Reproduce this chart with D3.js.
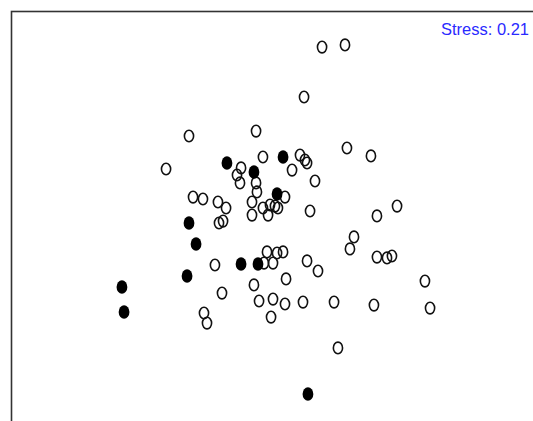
<!DOCTYPE html>
<html>
<head>
<meta charset="utf-8">
<script src="https://cdn.jsdelivr.net/npm/d3@7"></script>
<style>
  html, body { margin: 0; padding: 0; background: #fff; overflow: hidden; }
</style>
</head>
<body>
<svg id="chart" width="533" height="421"></svg>
<script>
// NMDS site scores
const openNMDS1 = [0.347, 0.500, 0.227, -0.540, -0.093, -0.693, -0.047, 0.200, 0.233, 0.247,
  0.147, 0.300, 0.513, 0.673, 0.267, 0.713, 0.847, 0.560, 0.533, 0.247,
  0.320, 0.713, 0.780, 0.813, 1.033, 1.067, 0.693, 0.453, 0.427, 0.220,
  -0.193, -0.220, -0.200, -0.093, -0.087, -0.120, -0.120, 0.100, -0.047, 0.000,
  0.033, 0.053, -0.013, -0.513, -0.447, -0.347, -0.293, -0.313, -0.340, -0.367,
  -0.020, 0.047, 0.087, -0.040, 0.020, 0.107, -0.107, -0.073, 0.020, 0.100,
  -0.320, -0.440, -0.420, 0.007];
const openNMDS2 = [1.153, 1.167, 0.820, 0.560, 0.593, 0.340, 0.420, 0.433, 0.400, 0.380,
  0.333, 0.260, 0.480, 0.427, 0.060, 0.027, 0.093, -0.113, -0.193, -0.273,
  -0.340, -0.247, -0.253, -0.240, -0.407, -0.587, -0.567, -0.853, -0.547, -0.547,
  0.347, 0.300, 0.247, 0.247, 0.187, 0.120, 0.033, 0.153, 0.080, 0.100,
  0.093, 0.080, 0.033, 0.153, 0.140, 0.120, 0.080, -0.007, -0.020, -0.300,
  -0.213, -0.220, -0.213, -0.287, -0.287, -0.393, -0.433, -0.540, -0.527, -0.560,
  -0.487, -0.620, -0.687, -0.647];
const filledNMDS1 = [-0.287, -0.107, 0.087, 0.047, -0.540, -0.493, -0.553, -0.193, -0.080, -0.987, -0.973, 0.253];
const filledNMDS2 = [0.380, 0.320, 0.420, 0.173, -0.020, -0.160, -0.373, -0.293, -0.293, -0.447, -0.613, -1.160];
const stressLabel = "Stress: 0.21";

const svg = d3.select("#chart");
const x = d3.scaleLinear().domain([-1, 1]).range([120, 420]);
const y = d3.scaleLinear().domain([-1, 1]).range([370, 70]);

// frame (extends past the visible window on right and bottom)
svg.append("rect")
  .attr("x", 11.5).attr("y", 11.5)
  .attr("width", 700).attr("height", 700)
  .attr("fill", "none").attr("stroke", "#333").attr("stroke-width", 1.6);

const openPts = openNMDS1.map((v, i) => ({x: v, y: openNMDS2[i]}));
const filledPts = filledNMDS1.map((v, i) => ({x: v, y: filledNMDS2[i]}));

svg.append("g").selectAll("ellipse").data(openPts).join("ellipse")
  .attr("cx", d => x(d.x)).attr("cy", d => y(d.y))
  .attr("rx", 4.6).attr("ry", 5.8)
  .attr("fill", "none").attr("stroke", "#111").attr("stroke-width", 1.6);

svg.append("g").selectAll("ellipse").data(filledPts).join("ellipse")
  .attr("cx", d => x(d.x)).attr("cy", d => y(d.y))
  .attr("rx", 5.4).attr("ry", 6.8)
  .attr("fill", "#000").attr("stroke", "none");

svg.append("text")
  .attr("x", 441).attr("y", 35)
  .attr("textLength", 88)
  .attr("lengthAdjust", "spacingAndGlyphs")
  .attr("font-family", "'Liberation Sans', Arial, sans-serif")
  .attr("font-size", 16.5)
  .attr("fill", "#2a2aff")
  .text(stressLabel);
</script>
</body>
</html>
